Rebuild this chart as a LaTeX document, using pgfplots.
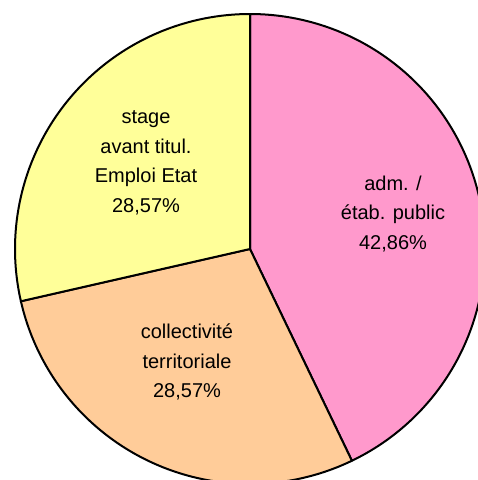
\documentclass[border=0pt]{standalone}
\usepackage{fontspec}
\setmainfont{Liberation Sans}
\usepackage{pgfplots}
\usepackage{pgfplotstable}
\pgfplotsset{compat=1.18}
\definecolor{pinkc}{HTML}{FF99CC}
\definecolor{orangec}{HTML}{FFCC99}
\definecolor{yellowc}{HTML}{FFFF99}
\pgfplotstableread{
label value
adm 42.86
coll 28.57
stage 28.57
}\piedata
\begin{document}
\begin{tikzpicture}
\pgfplotstablegetelem{0}{value}\of\piedata \let\va\pgfplotsretval
\pgfplotstablegetelem{1}{value}\of\piedata \let\vb\pgfplotsretval
\pgfplotstablegetelem{2}{value}\of\piedata \let\vc\pgfplotsretval
\pgfmathsetmacro\aA{90}
\pgfmathsetmacro\aB{90-3.6*\va}
\pgfmathsetmacro\aC{\aB-3.6*\vb}
\pgfmathsetmacro\aD{\aC-3.6*\vc}
\begin{axis}[at={(0,0)}, anchor=origin,
  width=478pt, height=480pt, scale only axis,
  xmin=0, xmax=478, ymin=0, ymax=480,
  hide axis, clip=true]
\addplot[fill=pinkc, draw=black, line width=2pt, line join=round, domain=\aB:\aA, samples=150, variable=\t]
  ({250+235*cos(\t)}, {231+235*sin(\t)}) -- (axis cs:250,231) -- cycle;
\addplot[fill=orangec, draw=black, line width=2pt, line join=round, domain=\aC:\aB, samples=120, variable=\t]
  ({250+235*cos(\t)}, {231+235*sin(\t)}) -- (axis cs:250,231) -- cycle;
\addplot[fill=yellowc, draw=black, line width=2pt, line join=round, domain=\aD:\aC, samples=120, variable=\t]
  ({250+235*cos(\t)}, {231+235*sin(\t)}) -- (axis cs:250,231) -- cycle;
\node[align=center, font=\fontsize{20}{29.5}\selectfont, inner sep=0pt] at (axis cs:393,266) {adm. /\\étab. public\\42,86\%};
\node[align=center, font=\fontsize{20}{29.5}\selectfont, inner sep=0pt] at (axis cs:187,118) {collectivité\\territoriale\\28,57\%};
\node[align=center, font=\fontsize{20}{29.5}\selectfont, inner sep=0pt] at (axis cs:146,317) {stage\\avant titul.\\Emploi Etat\\28,57\%};
\coordinate (LL) at (rel axis cs:0,0);
\coordinate (UR) at (rel axis cs:1,1);
\end{axis}
\pgfresetboundingbox
\useasboundingbox (LL) rectangle (UR);
\end{tikzpicture}
\end{document}
